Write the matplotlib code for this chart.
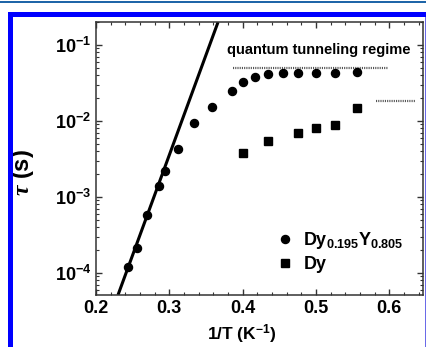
import matplotlib
matplotlib.use("Agg")
import matplotlib.pyplot as plt
from matplotlib.patches import Rectangle
from matplotlib.ticker import MultipleLocator, LogLocator, NullFormatter

plt.rcParams['font.family'] = ['Liberation Sans', 'DejaVu Sans']
plt.rcParams['font.weight'] = 'bold'
plt.rcParams['mathtext.fontset'] = 'custom'
plt.rcParams['mathtext.bf'] = 'Liberation Sans:bold'
plt.rcParams['mathtext.rm'] = 'Liberation Sans:bold'
plt.rcParams['mathtext.it'] = 'Liberation Serif:bold:italic'
plt.rcParams['mathtext.default'] = 'bf'

# Dy0.195Y0.805 (circles)
dyy_x = [0.244, 0.256, 0.270, 0.286, 0.294, 0.312, 0.333, 0.358, 0.385,
         0.400, 0.417, 0.435, 0.455, 0.476, 0.500, 0.526, 0.556]
dyy_tau = [1.2e-4, 2.1e-4, 5.8e-4, 1.4e-3, 2.2e-3, 4.2e-3, 9.3e-3, 1.5e-2, 2.5e-2,
           3.2e-2, 3.8e-2, 4.1e-2, 4.2e-2, 4.3e-2, 4.3e-2, 4.3e-2, 4.4e-2]

# pure Dy (squares)
dy_x = [0.400, 0.435, 0.476, 0.500, 0.526, 0.556]
dy_tau = [3.8e-3, 5.4e-3, 6.9e-3, 8.0e-3, 8.8e-3, 1.47e-2]

# Arrhenius fit line end points
fit_x = [0.230, 0.3665]
fit_tau = [5.1e-5, 0.2]

# quantum tunneling levels (dotted)
qt1_x = [0.387, 0.598]
qt1_tau = [0.050, 0.050]
qt2_x = [0.582, 0.635]
qt2_tau = [0.0185, 0.0185]

W, H = 427, 347
fig = plt.figure(figsize=(W / 100, H / 100), dpi=100)
ax = fig.add_axes([96 / W, 1 - 295 / H, 327 / W, 273 / H])

ax.plot(fit_x, fit_tau, color='black', lw=2.2, solid_capstyle='butt')
ax.plot(qt1_x, qt1_tau, color='#555555', lw=1.6, linestyle=(0, (0.5, 0.5)))
ax.plot(qt2_x, qt2_tau, color='#555555', lw=1.6, linestyle=(0, (0.5, 0.5)))
ax.plot(dyy_x, dyy_tau, 'o', color='black', ms=5.8, label=r'Dy$_{0.195}$Y$_{0.805}$')
ax.plot(dy_x, dy_tau, 's', color='black', ms=5.4, label='Dy')

ax.text(0.3787, 0.086, 'quantum tunneling regime', fontsize=10.5,
        fontweight='bold', ha='left', va='center')

ax.set_yscale('log')
ax.set_xlim(0.2, 0.646)
ax.set_ylim(5.1e-5, 0.2)
ax.xaxis.set_major_locator(MultipleLocator(0.1))
ax.xaxis.set_minor_locator(MultipleLocator(0.02))
ax.yaxis.set_minor_locator(LogLocator(subs=range(2, 10)))
ax.yaxis.set_minor_formatter(NullFormatter())
ax.tick_params(which='both', direction='in', top=True, right=True,
               color='#333333', labelsize=13)
ax.tick_params(which='major', length=4.5, width=1)
ax.tick_params(which='minor', length=2.5, width=0.8)
for s in ax.spines.values():
    s.set_color('#333333')
    s.set_linewidth(1.1)

ax.set_xlabel(r'1/T (K$^{-1}$)', fontsize=12.5, fontweight='bold')
ax.xaxis.set_label_coords(0.447, -0.098)
ax.set_ylabel(r'$\mathit{\tau}$ (s)', fontsize=17, fontweight='bold')
ax.yaxis.set_label_coords(-0.185, 0.447)

ax.legend(loc='upper left', bbox_to_anchor=(0.535, 0.265), frameon=False,
          handlelength=0.8, handletextpad=0.6, labelspacing=0.3,
          fontsize=13, borderaxespad=0)

# blue frame around the figure
fig.add_artist(Rectangle((0, 1 - 3 / H), 1, 2.2 / H, transform=fig.transFigure,
                         color='#1f65a8', lw=0))
fig.add_artist(Rectangle((8 / W, 0), 5 / W, 1 - 12 / H, transform=fig.transFigure,
                         color='#0000ff', lw=0))
fig.add_artist(Rectangle((8 / W, 1 - 17 / H), 1, 5 / H, transform=fig.transFigure,
                         color='#0000ff', lw=0))
fig.add_artist(Rectangle((425 / W, 0), 2 / W, 1 - 17 / H, transform=fig.transFigure,
                         color='#6a6ae8', lw=0))

fig.savefig('out.png', dpi=100)
